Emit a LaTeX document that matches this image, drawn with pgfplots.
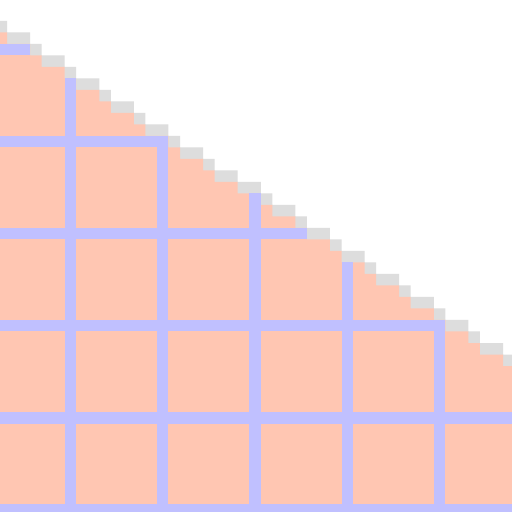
\documentclass[border=0pt]{standalone}
\usepackage{pgfplots}
\pgfplotsset{compat=1.18}
\usepackage{pgfplotstable}
\definecolor{salmon}{RGB}{255,198,178}
\definecolor{gridblue}{RGB}{192,192,255}
\definecolor{edgegray}{RGB}{221,221,221}
% staircase: x (left edge of step), top of gray edge, top of filled area
\pgfplotstableread{
x      gtop   stop
0      21     32.5
7      32.5   44
30.07  44     55.5
41.61  55.5   67
64.68  67     78.5
76.21  78.5   90
99.28  90     101.5
110.82 101.5  113
133.89 113    124.5
145.42 124.5  136
168.49 136    147.5
180.03 147.5  159
203.10 159    170.5
214.63 170.5  182
237.70 182    193.5
260.77 193.5  205
272.31 205    216.5
295.38 216.5  228
306.91 228    239.5
329.98 239.5  251
341.52 251    262.5
364.59 262.5  274
376.12 274    285.5
399.19 285.5  297
410.73 297    308.5
433.80 308.5  320
445.33 320    331.5
468.40 331.5  343
479.94 343    354.5
503.01 354.5  366
512    354.5  366
512    512    512
0      512    512
}\stairs
\begin{document}
\begin{tikzpicture}
\begin{axis}[
  scale only axis, width=8cm, height=8cm,
  xmin=0, xmax=512, ymin=0, ymax=512, y dir=reverse,
  hide axis,
]
\addplot[fill=white, draw=none] coordinates {(0,0) (512,0) (512,512) (0,512)};
\addplot[const plot, fill=edgegray, draw=none] table[x=x, y=gtop] {\stairs};
\addplot[const plot, fill=salmon, draw=none] table[x=x, y=stop] {\stairs};
% horizontal grid bands
\addplot[fill=gridblue, draw=none] coordinates {(0,44) (30.07,44) (30.07,55.5) (0,55.5)};
\addplot[fill=gridblue, draw=none] coordinates {(0,136) (168.49,136) (168.49,147.5) (0,147.5)};
\addplot[fill=gridblue, draw=none] coordinates {(0,228) (306.91,228) (306.91,239.5) (0,239.5)};
\addplot[fill=gridblue, draw=none] coordinates {(0,320) (445.33,320) (445.33,331.5) (0,331.5)};
\addplot[fill=gridblue, draw=none] coordinates {(0,412) (512,412) (512,423.5) (0,423.5)};
\addplot[fill=gridblue, draw=none] coordinates {(0,504) (512,504) (512,512) (0,512)};
% vertical grid bands
\addplot[fill=gridblue, draw=none] coordinates {(64.68,78.5) (76.21,78.5) (76.21,512) (64.68,512)};
\addplot[fill=gridblue, draw=none] coordinates {(156.96,136) (168.49,136) (168.49,512) (156.96,512)};
\addplot[fill=gridblue, draw=none] coordinates {(249.24,193.5) (260.77,193.5) (260.77,512) (249.24,512)};
\addplot[fill=gridblue, draw=none] coordinates {(341.52,262.5) (353.05,262.5) (353.05,512) (341.52,512)};
\addplot[fill=gridblue, draw=none] coordinates {(433.80,320) (445.33,320) (445.33,512) (433.80,512)};
\end{axis}
\end{tikzpicture}
\end{document}
